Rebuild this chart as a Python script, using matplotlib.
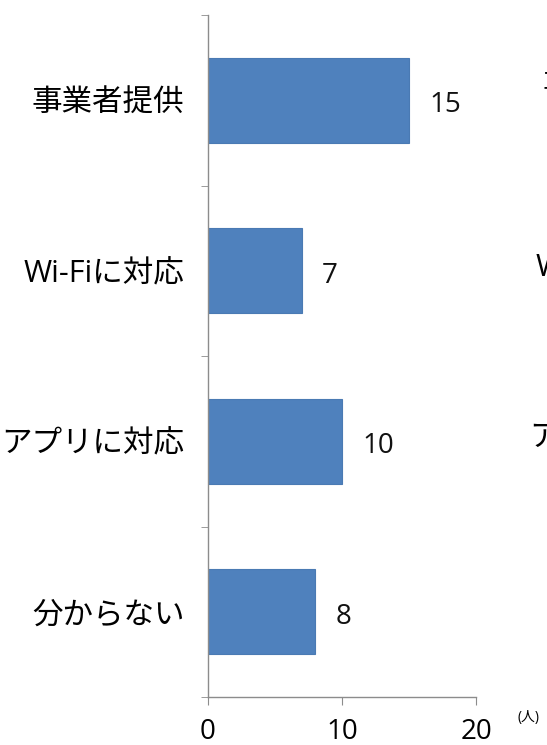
import matplotlib
matplotlib.use("Agg")
import matplotlib.pyplot as plt
from matplotlib.ticker import FixedLocator

plt.rcParams['font.family'] = ['Open Sans', 'Noto Sans CJK JP', 'DejaVu Sans']

categories = ["事業者提供", "Wi-Fiに対応", "アプリに対応", "分からない"]
values = [15, 7, 10, 8]
x_ticks = [0, 10, 20]
unit_label = "(人)"
clipped_labels = ["事業者提供", "Wi-Fiに対応", "アプリに対応"]

W, H = 547, 745
fig = plt.figure(figsize=(W / 100, H / 100), dpi=100)
ax = fig.add_axes([208 / W, 1 - 697 / H, (476 - 208) / W, (697 - 15) / H])

pos = list(range(len(categories)))
ax.barh(pos, values, height=0.5, color="#4F81BD", edgecolor="#4A7AB3", linewidth=0.8)
ax.set_ylim(len(categories) - 0.5, -0.5)
ax.set_xlim(0, 20)

axis_color = "#8C8C8C"
for s in ["top", "right"]:
    ax.spines[s].set_visible(False)
for s in ["left", "bottom"]:
    ax.spines[s].set_color(axis_color)
    ax.spines[s].set_linewidth(1.0)

ax.set_yticks(pos)
ax.set_yticklabels(categories, fontsize=22)
ax.tick_params(axis="y", which="major", length=0, pad=17)
ax.yaxis.set_minor_locator(FixedLocator([p - 0.5 for p in pos] + [pos[-1] + 0.5]))
ax.tick_params(axis="y", which="minor", length=5, color=axis_color, direction="out")

ax.set_xticks(x_ticks)
ax.set_xticklabels([str(t) for t in x_ticks], fontsize=20)
ax.tick_params(axis="x", length=6, color=axis_color, direction="out", pad=9)

for p, v in zip(pos, values):
    ax.annotate(str(v), xy=(v, p), xytext=(20, -5), textcoords="offset pixels",
                ha="left", va="center", fontsize=20, color="#111111")

fig.text(518 / W, 1 - 718 / H, unit_label, fontsize=10, ha="left", va="center")

for xp, yp, lab in zip([543, 536, 529], [88, 268, 438], clipped_labels):
    fig.text(xp / W, 1 - yp / H, lab, fontsize=22, ha="left", va="center")

fig.savefig("out.png", dpi=100)
